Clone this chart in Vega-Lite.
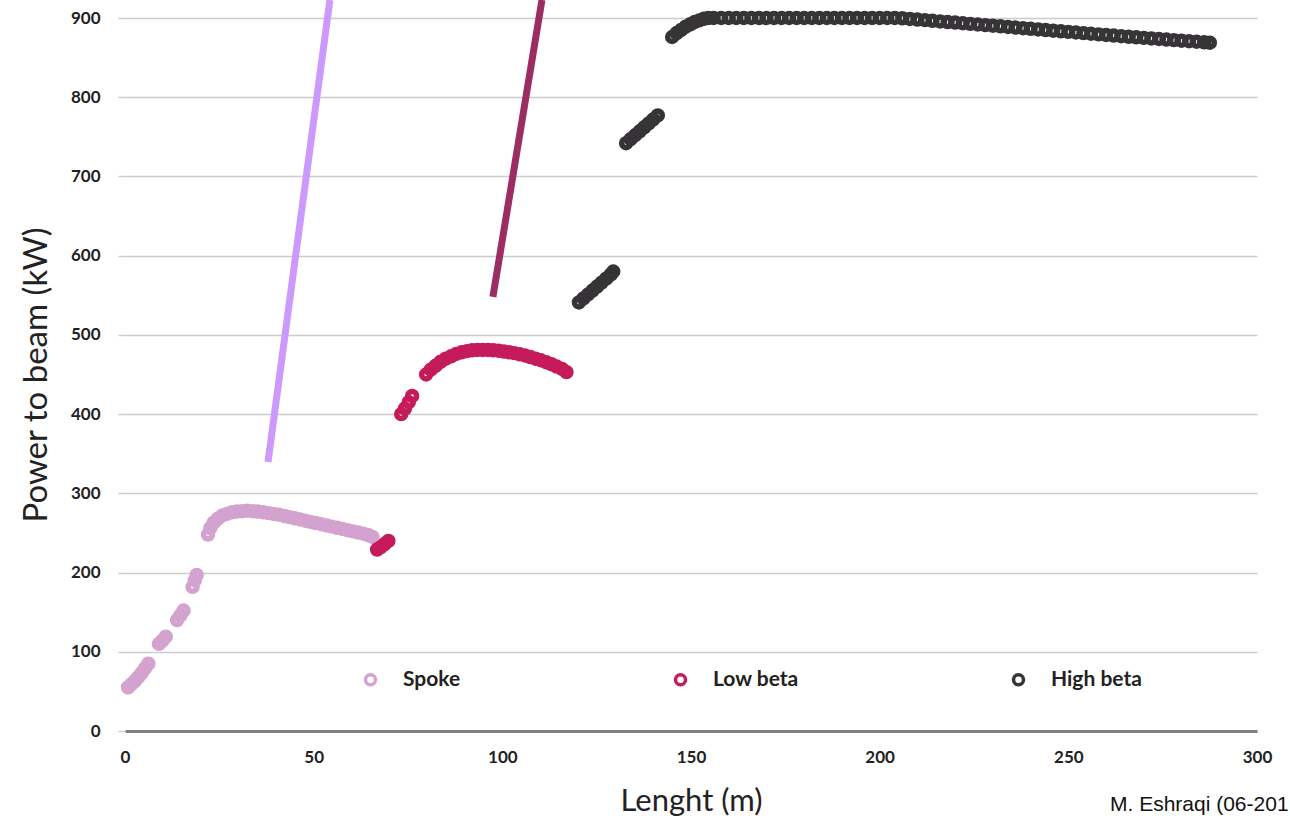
{
  "$schema": "https://vega.github.io/schema/vega-lite/v6.json",
  "width": 1132,
  "height": 713,
  "autosize": {"type": "none"},
  "padding": {"left": 125, "top": 18, "right": 33, "bottom": 94},
  "background": "white",
  "config": {"view": {"stroke": null}, "font": "Lato"},
  "title": {
    "text": "M. Eshraqi (06-201",
    "orient": "bottom",
    "anchor": "start",
    "frame": "group",
    "dx": 985,
    "offset": -22,
    "font": "Liberation Sans",
    "fontSize": 21,
    "fontWeight": "normal",
    "color": "#111111"
  },
  "datasets": {
    "beam": [
      {"length": 0.8, "power": 55, "section": "Spoke"},
      {"length": 1.7, "power": 59, "section": "Spoke"},
      {"length": 2.6, "power": 63, "section": "Spoke"},
      {"length": 3.5, "power": 68, "section": "Spoke"},
      {"length": 4.4, "power": 73, "section": "Spoke"},
      {"length": 5.3, "power": 79, "section": "Spoke"},
      {"length": 6.2, "power": 85, "section": "Spoke"},
      {"length": 9.0, "power": 110, "section": "Spoke"},
      {"length": 9.9, "power": 114, "section": "Spoke"},
      {"length": 10.8, "power": 119, "section": "Spoke"},
      {"length": 13.8, "power": 140, "section": "Spoke"},
      {"length": 14.7, "power": 146, "section": "Spoke"},
      {"length": 15.5, "power": 152, "section": "Spoke"},
      {"length": 17.9, "power": 182, "section": "Spoke"},
      {"length": 18.5, "power": 190, "section": "Spoke"},
      {"length": 19.0, "power": 197, "section": "Spoke"},
      {"length": 22.0, "power": 248, "section": "Spoke"},
      {"length": 22.6, "power": 256, "section": "Spoke"},
      {"length": 23.5, "power": 263, "section": "Spoke"},
      {"length": 24.6, "power": 268, "section": "Spoke"},
      {"length": 25.8, "power": 272, "section": "Spoke"},
      {"length": 27.0, "power": 274, "section": "Spoke"},
      {"length": 28.3, "power": 276, "section": "Spoke"},
      {"length": 29.6, "power": 277, "section": "Spoke"},
      {"length": 31.0, "power": 277.5, "section": "Spoke"},
      {"length": 32.4, "power": 278, "section": "Spoke"},
      {"length": 33.8, "power": 277.5, "section": "Spoke"},
      {"length": 35.2, "power": 277, "section": "Spoke"},
      {"length": 36.6, "power": 276, "section": "Spoke"},
      {"length": 38.0, "power": 275, "section": "Spoke"},
      {"length": 39.4, "power": 274, "section": "Spoke"},
      {"length": 40.8, "power": 273, "section": "Spoke"},
      {"length": 42.2, "power": 271.5, "section": "Spoke"},
      {"length": 43.6, "power": 270, "section": "Spoke"},
      {"length": 45.0, "power": 268.5, "section": "Spoke"},
      {"length": 46.4, "power": 267, "section": "Spoke"},
      {"length": 47.8, "power": 265.5, "section": "Spoke"},
      {"length": 49.2, "power": 264, "section": "Spoke"},
      {"length": 50.6, "power": 262.5, "section": "Spoke"},
      {"length": 52.0, "power": 261, "section": "Spoke"},
      {"length": 53.4, "power": 259.5, "section": "Spoke"},
      {"length": 54.8, "power": 258, "section": "Spoke"},
      {"length": 56.2, "power": 256.5, "section": "Spoke"},
      {"length": 57.6, "power": 255, "section": "Spoke"},
      {"length": 59.0, "power": 253.5, "section": "Spoke"},
      {"length": 60.4, "power": 252, "section": "Spoke"},
      {"length": 61.8, "power": 250.5, "section": "Spoke"},
      {"length": 63.2, "power": 249, "section": "Spoke"},
      {"length": 64.6, "power": 247, "section": "Spoke"},
      {"length": 65.6, "power": 245, "section": "Spoke"},
      {"length": 66.8, "power": 229, "section": "Low beta"},
      {"length": 67.8, "power": 232, "section": "Low beta"},
      {"length": 68.8, "power": 236, "section": "Low beta"},
      {"length": 69.8, "power": 240, "section": "Low beta"},
      {"length": 73.2, "power": 400, "section": "Low beta"},
      {"length": 74.2, "power": 407, "section": "Low beta"},
      {"length": 75.2, "power": 415, "section": "Low beta"},
      {"length": 76.1, "power": 423, "section": "Low beta"},
      {"length": 79.8, "power": 450, "section": "Low beta"},
      {"length": 81.0, "power": 456, "section": "Low beta"},
      {"length": 82.3, "power": 461, "section": "Low beta"},
      {"length": 83.6, "power": 466, "section": "Low beta"},
      {"length": 85.0, "power": 470, "section": "Low beta"},
      {"length": 86.4, "power": 473, "section": "Low beta"},
      {"length": 87.8, "power": 476, "section": "Low beta"},
      {"length": 89.2, "power": 478, "section": "Low beta"},
      {"length": 90.6, "power": 479.5, "section": "Low beta"},
      {"length": 92.0, "power": 480.5, "section": "Low beta"},
      {"length": 93.4, "power": 481, "section": "Low beta"},
      {"length": 94.8, "power": 481, "section": "Low beta"},
      {"length": 96.2, "power": 481, "section": "Low beta"},
      {"length": 97.6, "power": 480.5, "section": "Low beta"},
      {"length": 99.0, "power": 480, "section": "Low beta"},
      {"length": 100.4, "power": 479, "section": "Low beta"},
      {"length": 101.8, "power": 478, "section": "Low beta"},
      {"length": 103.2, "power": 477, "section": "Low beta"},
      {"length": 104.6, "power": 475.5, "section": "Low beta"},
      {"length": 106.0, "power": 474, "section": "Low beta"},
      {"length": 107.4, "power": 472, "section": "Low beta"},
      {"length": 108.8, "power": 470, "section": "Low beta"},
      {"length": 110.2, "power": 468, "section": "Low beta"},
      {"length": 111.6, "power": 465.5, "section": "Low beta"},
      {"length": 113.0, "power": 463, "section": "Low beta"},
      {"length": 114.4, "power": 460, "section": "Low beta"},
      {"length": 115.8, "power": 457, "section": "Low beta"},
      {"length": 117.0, "power": 453, "section": "Low beta"},
      {"length": 120.3, "power": 541, "section": "High beta"},
      {"length": 121.5, "power": 546, "section": "High beta"},
      {"length": 122.7, "power": 551, "section": "High beta"},
      {"length": 123.9, "power": 556, "section": "High beta"},
      {"length": 125.1, "power": 561, "section": "High beta"},
      {"length": 126.3, "power": 566, "section": "High beta"},
      {"length": 127.5, "power": 571, "section": "High beta"},
      {"length": 128.7, "power": 576, "section": "High beta"},
      {"length": 129.4, "power": 580, "section": "High beta"},
      {"length": 132.8, "power": 742, "section": "High beta"},
      {"length": 134.0, "power": 747, "section": "High beta"},
      {"length": 135.2, "power": 752, "section": "High beta"},
      {"length": 136.4, "power": 757, "section": "High beta"},
      {"length": 137.6, "power": 762, "section": "High beta"},
      {"length": 138.8, "power": 767, "section": "High beta"},
      {"length": 140.0, "power": 772, "section": "High beta"},
      {"length": 141.2, "power": 777, "section": "High beta"},
      {"length": 145.0, "power": 876, "section": "High beta"},
      {"length": 146.2, "power": 881, "section": "High beta"},
      {"length": 147.4, "power": 885, "section": "High beta"},
      {"length": 148.6, "power": 889, "section": "High beta"},
      {"length": 149.8, "power": 892, "section": "High beta"},
      {"length": 151.0, "power": 895, "section": "High beta"},
      {"length": 152.2, "power": 897, "section": "High beta"},
      {"length": 153.4, "power": 899, "section": "High beta"},
      {"length": 154.6, "power": 900, "section": "High beta"},
      {"length": 156, "power": 900, "section": "High beta"},
      {"length": 158, "power": 900, "section": "High beta"},
      {"length": 160, "power": 900, "section": "High beta"},
      {"length": 162, "power": 900, "section": "High beta"},
      {"length": 164, "power": 900, "section": "High beta"},
      {"length": 166, "power": 900, "section": "High beta"},
      {"length": 168, "power": 900, "section": "High beta"},
      {"length": 170, "power": 900, "section": "High beta"},
      {"length": 172, "power": 900, "section": "High beta"},
      {"length": 174, "power": 900, "section": "High beta"},
      {"length": 176, "power": 900, "section": "High beta"},
      {"length": 178, "power": 900, "section": "High beta"},
      {"length": 180, "power": 900, "section": "High beta"},
      {"length": 182, "power": 900, "section": "High beta"},
      {"length": 184, "power": 900, "section": "High beta"},
      {"length": 186, "power": 900, "section": "High beta"},
      {"length": 188, "power": 900, "section": "High beta"},
      {"length": 190, "power": 900, "section": "High beta"},
      {"length": 192, "power": 900, "section": "High beta"},
      {"length": 194, "power": 900, "section": "High beta"},
      {"length": 196, "power": 900, "section": "High beta"},
      {"length": 198, "power": 900, "section": "High beta"},
      {"length": 200, "power": 900, "section": "High beta"},
      {"length": 202, "power": 900, "section": "High beta"},
      {"length": 204, "power": 900, "section": "High beta"},
      {"length": 206, "power": 899.6, "section": "High beta"},
      {"length": 208, "power": 898.8, "section": "High beta"},
      {"length": 210, "power": 898.0, "section": "High beta"},
      {"length": 212, "power": 897.3, "section": "High beta"},
      {"length": 214, "power": 896.5, "section": "High beta"},
      {"length": 216, "power": 895.7, "section": "High beta"},
      {"length": 218, "power": 894.9, "section": "High beta"},
      {"length": 220, "power": 894.2, "section": "High beta"},
      {"length": 222, "power": 893.4, "section": "High beta"},
      {"length": 224, "power": 892.6, "section": "High beta"},
      {"length": 226, "power": 891.8, "section": "High beta"},
      {"length": 228, "power": 891.0, "section": "High beta"},
      {"length": 230, "power": 890.3, "section": "High beta"},
      {"length": 232, "power": 889.5, "section": "High beta"},
      {"length": 234, "power": 888.7, "section": "High beta"},
      {"length": 236, "power": 887.9, "section": "High beta"},
      {"length": 238, "power": 887.1, "section": "High beta"},
      {"length": 240, "power": 886.4, "section": "High beta"},
      {"length": 242, "power": 885.6, "section": "High beta"},
      {"length": 244, "power": 884.8, "section": "High beta"},
      {"length": 246, "power": 884.0, "section": "High beta"},
      {"length": 248, "power": 883.2, "section": "High beta"},
      {"length": 250, "power": 882.5, "section": "High beta"},
      {"length": 252, "power": 881.7, "section": "High beta"},
      {"length": 254, "power": 880.9, "section": "High beta"},
      {"length": 256, "power": 880.1, "section": "High beta"},
      {"length": 258, "power": 879.3, "section": "High beta"},
      {"length": 260, "power": 878.6, "section": "High beta"},
      {"length": 262, "power": 877.8, "section": "High beta"},
      {"length": 264, "power": 877.0, "section": "High beta"},
      {"length": 266, "power": 876.3, "section": "High beta"},
      {"length": 268, "power": 875.6, "section": "High beta"},
      {"length": 270, "power": 874.9, "section": "High beta"},
      {"length": 272, "power": 874.2, "section": "High beta"},
      {"length": 274, "power": 873.5, "section": "High beta"},
      {"length": 276, "power": 872.8, "section": "High beta"},
      {"length": 278, "power": 872.1, "section": "High beta"},
      {"length": 280, "power": 871.4, "section": "High beta"},
      {"length": 282, "power": 870.7, "section": "High beta"},
      {"length": 284, "power": 870.0, "section": "High beta"},
      {"length": 286, "power": 869.3, "section": "High beta"},
      {"length": 287.5, "power": 868.8, "section": "High beta"}
    ],
    "pointers": [
      {"pointer": "spoke", "x1": 37.9, "y1": 339.6, "x2": 54.3, "y2": 922.7},
      {"pointer": "elliptical", "x1": 97.5, "y1": 547.9, "x2": 110.5, "y2": 922.7}
    ]
  },
  "layer": [
    {
      "data": {"name": "beam"},
      "mark": {"type": "point", "filled": false, "strokeWidth": 5.5, "size": 80, "opacity": 1},
      "encoding": {
        "x": {
          "field": "length",
          "type": "quantitative",
          "scale": {"domain": [0, 300], "nice": false},
          "axis": {
            "title": "Lenght (m)",
            "values": [0, 50, 100, 150, 200, 250, 300],
            "grid": false,
            "ticks": false,
            "labelFlush": false,
            "domainColor": "#7f7f7f",
            "domainWidth": 3,
            "labelPadding": 18,
            "labelFont": "Lato",
            "labelFontSize": 17,
            "labelFontWeight": "bold",
            "labelColor": "#222222",
            "titleFont": "Lato",
            "titleFontSize": 31,
            "titleFontWeight": "normal",
            "titleColor": "#222222",
            "titlePadding": 21
          }
        },
        "y": {
          "field": "power",
          "type": "quantitative",
          "scale": {"domain": [0, 900], "nice": false, "zero": true},
          "axis": {
            "title": "Power to beam (kW)",
            "values": [0, 100, 200, 300, 400, 500, 600, 700, 800, 900],
            "grid": true,
            "gridColor": "#cccccc",
            "gridWidth": 1.5,
            "domain": false,
            "ticks": true,
            "tickSize": 7,
            "tickColor": "#cccccc",
            "tickWidth": 1.5,
            "labelPadding": 18,
            "labelFont": "Lato",
            "labelFontSize": 17,
            "labelFontWeight": "bold",
            "labelColor": "#222222",
            "titleFont": "Lato",
            "titleFontSize": 33,
            "titleFontWeight": "normal",
            "titleColor": "#222222",
            "titlePadding": 17
          }
        },
        "color": {
          "field": "section",
          "type": "nominal",
          "scale": {"domain": ["Spoke", "Low beta", "High beta"], "range": ["#d3a2ce", "#c51b5a", "#373437"]},
          "legend": {
            "title": null,
            "orient": "none",
            "legendX": 235,
            "legendY": 651,
            "direction": "horizontal",
            "padding": 0,
            "columnPadding": 207,
            "symbolType": "circle",
            "symbolSize": 100,
            "symbolStrokeWidth": 3.5,
            "labelOffset": 22,
            "labelFont": "Lato",
            "labelFontSize": 21,
            "labelFontWeight": "bold",
            "labelColor": "#222222"
          }
        }
      }
    },
    {
      "data": {"name": "pointers"},
      "mark": {"type": "rule", "strokeWidth": 7, "strokeCap": "butt"},
      "encoding": {
        "x": {"field": "x1", "type": "quantitative"},
        "y": {"field": "y1", "type": "quantitative"},
        "x2": {"field": "x2"},
        "y2": {"field": "y2"},
        "color": {
          "field": "pointer",
          "type": "nominal",
          "scale": {"domain": ["spoke", "elliptical"], "range": ["#cc99ff", "#9b2d63"]},
          "legend": null
        }
      }
    }
  ],
  "resolve": {"scale": {"color": "independent"}}
}
